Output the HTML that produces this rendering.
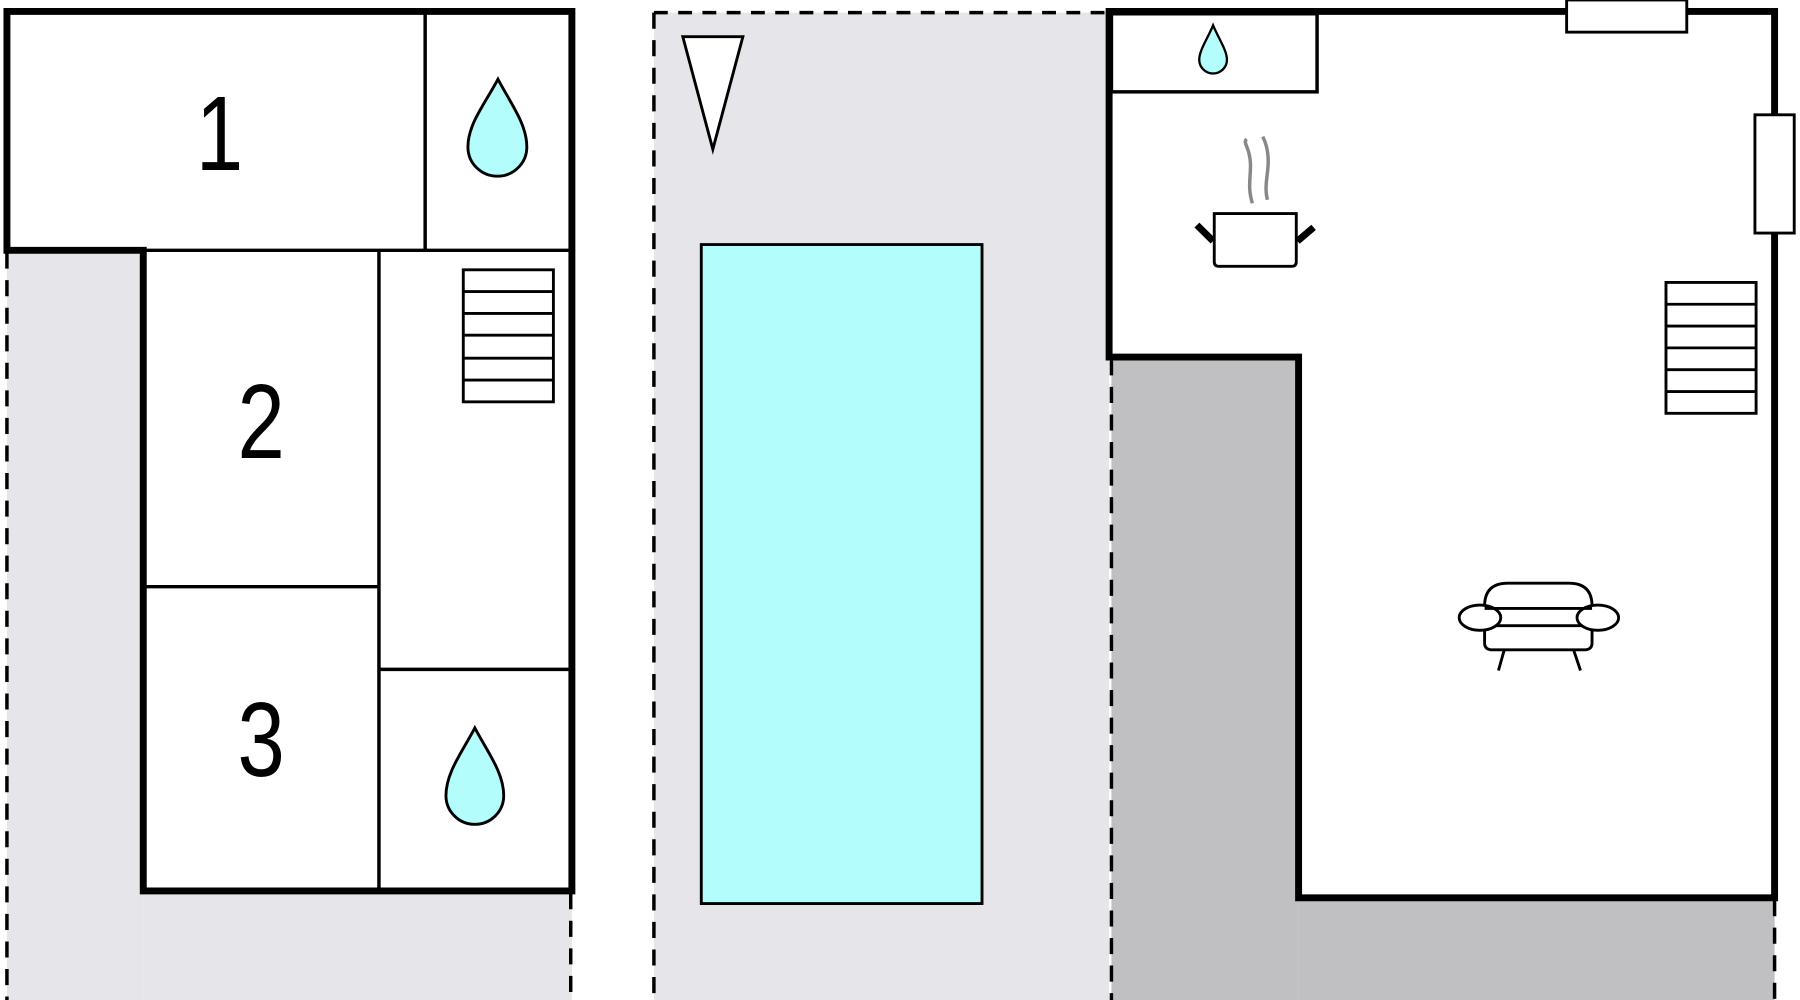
<!DOCTYPE html>
<html><head><style>html,body{margin:0;padding:0;background:#fff;}svg{display:block}</style></head>
<body>
<svg width="1800" height="1000" viewBox="0 0 1558 871" preserveAspectRatio="none" xmlns="http://www.w3.org/2000/svg">
<rect width="1558" height="871" fill="#fff"/>
<!-- left gray -->
<rect x="6" y="218" width="118" height="653" fill="#e6e6ea"/>
<rect x="124" y="776" width="371" height="95" fill="#e6e6ea"/>
<line x1="6" y1="220" x2="6" y2="871" stroke="#000" stroke-width="3" stroke-dasharray="14,10"/>
<line x1="494" y1="778" x2="494" y2="871" stroke="#000" stroke-width="3" stroke-dasharray="14,10"/>
<!-- middle -->
<rect x="566" y="11" width="394" height="860" fill="#e6e6ea"/>
<line x1="566" y1="11" x2="960" y2="11" stroke="#000" stroke-width="3" stroke-dasharray="12,9"/>
<line x1="566" y1="11" x2="566" y2="871" stroke="#000" stroke-width="3" stroke-dasharray="14,10"/>
<rect x="607" y="213" width="243" height="574" fill="#b3fdfc" stroke="#000" stroke-width="2.5"/>
<polygon points="591,32 643,32 617,130" fill="#fff" stroke="#000" stroke-width="2.5"/>
<!-- right gray -->
<rect x="962" y="311" width="162" height="560" fill="#c0c0c2"/>
<rect x="1124" y="782" width="412" height="89" fill="#c0c0c2"/>
<line x1="962" y1="313" x2="962" y2="871" stroke="#000" stroke-width="3" stroke-dasharray="14,10"/>
<line x1="1536" y1="784" x2="1536" y2="871" stroke="#000" stroke-width="3" stroke-dasharray="14,10"/>
<!-- left building -->
<g fill="none" stroke="#000">
<path d="M6,10 H495 V776 H124 V218 H6 Z" fill="#fff" stroke-width="6"/>
<line x1="368" y1="10" x2="368" y2="218" stroke-width="3"/>
<line x1="124" y1="218" x2="495" y2="218" stroke-width="3"/>
<line x1="328" y1="218" x2="328" y2="776" stroke-width="3"/>
<line x1="124" y1="511" x2="328" y2="511" stroke-width="3"/>
<line x1="328" y1="583" x2="495" y2="583" stroke-width="3"/>
<rect x="401" y="235" width="78" height="115" stroke-width="2.5"/>
<path d="M401,254 H479 M401,273 H479 M401,292 H479 M401,312 H479 M401,331 H479" stroke-width="2.5"/>
</g>
<g font-family="Liberation Sans, sans-serif" font-size="92" text-anchor="middle" fill="#000">
<text transform="translate(190,148) scale(0.8,1)">1</text>
<text transform="translate(226,399) scale(0.8,1)">2</text>
<text transform="translate(226,676) scale(0.8,1)">3</text>
</g>
<!-- right building -->
<g fill="none" stroke="#000">
<path d="M960,10 H1536 V782 H1124 V311 H960 Z" fill="#fff" stroke-width="6"/>
<rect x="962" y="12" width="178" height="68" stroke-width="3"/>
<rect x="1356" y="0" width="104" height="28" fill="#fff" stroke-width="2.5"/>
<rect x="1519" y="100" width="34" height="103" fill="#fff" stroke-width="2.5"/>
<rect x="1442" y="246" width="78" height="114" stroke-width="2.5"/>
<path d="M1442,265 H1520 M1442,284 H1520 M1442,303 H1520 M1442,322 H1520 M1442,341 H1520" stroke-width="2.5"/>
<!-- pot -->
<path d="M1051,186 H1122 V228 Q1122,232 1118,232 H1055 Q1051,232 1051,228 Z" stroke-width="2.5"/>
<path d="M1050,210 L1036,196 M1123,210 L1137,198" stroke-width="6"/>
<path d="M1084,177 C1078,158 1086,148 1080,130 C1078,125 1077,123 1079,121 M1097,174 C1093,158 1101,146 1096,127 C1095,123 1094,121 1093,119" stroke="#888" stroke-width="3"/>
<!-- armchair -->
<path d="M1285,528 Q1285,508 1305,508 H1358 Q1378,508 1378,528 V545 H1285 Z" fill="#fff" stroke-width="2.5"/>
<ellipse cx="1281" cy="538" rx="18" ry="11" fill="#fff" stroke-width="2.5"/>
<ellipse cx="1383" cy="538" rx="18" ry="11" fill="#fff" stroke-width="2.5"/>
<path d="M1285,549 V560 Q1285,566 1292,566 H1371 Q1378,566 1378,560 V549 M1285,530 H1378" stroke-width="2.5"/>
<path d="M1302,566 L1297,584 M1362,566 L1368,584" stroke-width="2.5"/>
</g>
<g fill="#b3fdfc" stroke="#000" stroke-width="2.5">
<path d="M431,69 C420,90 405,108 405,128 A25,25 0 0 0 456,128 C456,108 442,90 431,69 Z"/>
<path d="M411,634 C400,655 386,673 386,693 A25,25 0 0 0 436,693 C436,673 422,655 411,634 Z"/>
<path d="M1050,22 C1045,34 1038,44 1038,52 A12,12 0 0 0 1062,52 C1062,44 1055,34 1050,22 Z" stroke-width="2"/>
</g>
</svg>
</body></html>
